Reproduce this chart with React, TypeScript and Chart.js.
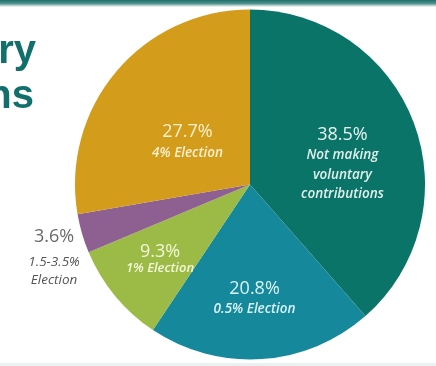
import React, { useEffect, useRef } from "react";
import { Chart, registerables } from "chart.js";

Chart.register(...registerables);

const categories = [
  "Not making voluntary contributions",
  "0.5% Election",
  "1% Election",
  "1.5-3.5% Election",
  "4% Election",
];
const shares = [38.5, 20.8, 9.3, 3.6, 27.7];
const percentLabels = ["38.5%", "20.8%", "9.3%", "3.6%", "27.7%"];
const subLabels = [
  ["Not making", "voluntary", "contributions"],
  ["0.5% Election"],
  ["1% Election"],
  ["1.5-3.5%", "Election"],
  ["4% Election"],
];
const titleLines = ["ry", "ns"];

const colors = ["#0b7469", "#15899b", "#9cbb46", "#8e5f91", "#d49c1b"];

// label placement: fraction of radius, angle tweak (degrees), line gaps
const labelPlace = [
  { r: 0.54, da: 8.6, color: "#e6f4ef", sub: "#e0f1eb", pSize: 18, sSize: 13.5, sW: 600, gaps: [20, 20, 19] },
  { r: 0.653, da: 1.5, color: "#d8f2f6", sub: "#d8f2f6", pSize: 18, sSize: 13.5, sW: 600, gaps: [20] },
  { r: 0.671, da: -0.4, color: "#f4f6d8", sub: "#f4f6d8", pSize: 18, sSize: 13, sW: 600, gaps: [17] },
  { r: 1.196, da: -4.3, color: "#6a6a6a", sub: "#555555", pSize: 18, sSize: 13.5, sW: 400, gaps: [25, 18] },
  { r: 0.431, da: -6.1, color: "#fbf0cf", sub: "#fbf0cf", pSize: 18, sSize: 13.5, sW: 600, gaps: [21] },
];

const FONT = '"Open Sans", Lato, sans-serif';

const labelPlugin = {
  id: "sliceLabels",
  afterDatasetsDraw(chart: any) {
    const ctx = chart.ctx;
    const meta = chart.getDatasetMeta(0);
    meta.data.forEach((arc: any, i: number) => {
      const p = arc.getProps(["x", "y", "startAngle", "endAngle", "outerRadius"], true);
      const place = labelPlace[i];
      const mid = (p.startAngle + p.endAngle) / 2 + (place.da * Math.PI) / 180;
      const cx = p.x + Math.cos(mid) * p.outerRadius * place.r;
      const cy = p.y + Math.sin(mid) * p.outerRadius * place.r;
      const lines = [percentLabels[i], ...subLabels[i]];
      const total = place.gaps.reduce((a: number, b: number) => a + b, 0);
      ctx.save();
      ctx.textAlign = "center";
      ctx.textBaseline = "middle";
      let y = cy - total / 2;
      lines.forEach((t, k) => {
        if (k === 0) {
          ctx.font = `${place.pSize}px ${FONT}`;
          ctx.fillStyle = place.color;
        } else {
          ctx.font = `italic ${place.sW} ${place.sSize}px ${FONT}`;
          ctx.fillStyle = place.sub;
        }
        ctx.fillText(t, cx, y);
        y += place.gaps[k] || 0;
      });
      ctx.restore();
    });
  },
};

const framePlugin = {
  id: "frame",
  beforeDraw(chart: any) {
    const ctx = chart.ctx;
    const w = chart.width;
    const h = chart.height;
    ctx.save();
    ctx.fillStyle = "#ffffff";
    ctx.fillRect(0, 0, w, h);
    const g = ctx.createLinearGradient(0, 0, 0, 7);
    g.addColorStop(0, "#1f6f6a");
    g.addColorStop(0.5, "#4f918c");
    g.addColorStop(1, "rgba(255,255,255,1)");
    ctx.fillStyle = g;
    ctx.fillRect(0, 0, w, 7);
    ctx.fillStyle = "#e9f1f1";
    ctx.fillRect(0, h - 3, w, 3);
    ctx.fillStyle = "#11706c";
    ctx.font = 'bold 40px "Liberation Sans", Arial, sans-serif';
    ctx.textAlign = "right";
    ctx.textBaseline = "alphabetic";
    ctx.fillText(titleLines[0], 36, 63);
    ctx.fillText(titleLines[1], 34, 108);
    ctx.restore();
  },
};

export default function App() {
  const ref = useRef<HTMLCanvasElement>(null);
  useEffect(() => {
    if (!ref.current) return;
    const chart = new Chart(ref.current, {
      type: "pie",
      data: {
        labels: categories,
        datasets: [
          {
            data: shares,
            backgroundColor: colors,
            borderColor: colors,
            borderWidth: 0,
          },
        ],
      },
      options: {
        responsive: false,
        animation: false,
        rotation: 0,
        layout: { padding: { top: 9, bottom: 6, left: 75, right: 11 } },
        plugins: {
          legend: { display: false },
          tooltip: { enabled: false },
        },
      },
      plugins: [framePlugin, labelPlugin],
    });
    return () => chart.destroy();
  }, []);
  return (
    <div style={{ position: "fixed", left: 0, top: 0, width: 436, height: 366, background: "#fff" }}>
      <canvas ref={ref} width={436} height={366} style={{ width: 436, height: 366, display: "block" }} />
    </div>
  );
}
